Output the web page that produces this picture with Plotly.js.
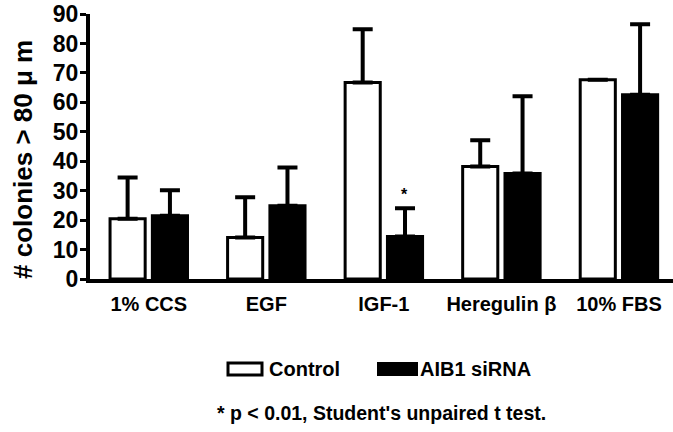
<!DOCTYPE html>
<html>
<head>
<meta charset="utf-8">
<script src="https://cdn.plot.ly/plotly-3.0.1.min.js"></script>
<style>html,body{margin:0;padding:0;background:#fff;}#chart{width:673px;height:432px;}</style>
</head>
<body>
<div id="chart"></div>
<script>
// ---- data ----
const categories = ["1% CCS", "EGF", "IGF-1", "Heregulin β", "10% FBS"];
const controlValues = [20.5, 14.1, 66.7, 38.2, 67.7];
const controlErrors = [14.0, 13.7, 18.1, 8.9, 0];
const aib1Values = [21.5, 24.9, 14.4, 35.8, 62.6];
const aib1Errors = [8.6, 13.0, 9.6, 26.3, 23.9];
const seriesNames = ["Control", "AIB1 siRNA"];
const yTicks = [0, 10, 20, 30, 40, 50, 60, 70, 80, 90];
const significantIndex = 2; // IGF-1, AIB1 siRNA
const footnote = "* p < 0.01, Student's unpaired t test.";
const yTitle = "# colonies > 80 μ m";

const FONT = "Liberation Sans, Arial, Helvetica, sans-serif";
const xIdx = categories.map((_, i) => i);

const errStyle = {type: "data", symmetric: false, color: "#000", thickness: 4, width: 10};

const traces = [
  {
    type: "bar", name: seriesNames[0], x: xIdx, y: controlValues,
    marker: {color: "#fff", line: {color: "#000", width: 3}},
    error_y: Object.assign({array: controlErrors, arrayminus: controlValues.map(() => 0), visible: true}, errStyle),
    hoverinfo: "x+y", showlegend: false
  },
  {
    type: "bar", name: seriesNames[1], x: xIdx, y: aib1Values,
    marker: {color: "#000", line: {color: "#000", width: 3}},
    error_y: Object.assign({array: aib1Errors, arrayminus: aib1Values.map(() => 0), visible: true}, errStyle),
    hoverinfo: "x+y", showlegend: false
  }
];

// paper helpers (plot area: left 90, top 14, width 583, height 265)
const px = v => (v - 90) / 583;
const py = v => (279 - v) / 265;

const layout = {
  width: 673, height: 432,
  margin: {l: 90, r: 0, t: 14, b: 153, pad: 0},
  paper_bgcolor: "#fff", plot_bgcolor: "#fff",
  barmode: "group", bargap: 0.28, bargroupgap: 0.17,
  font: {family: FONT, color: "#000", size: 20, weight: "bold"},
  xaxis: {
    range: [-0.5, 4.46], tickmode: "array", tickvals: xIdx, ticktext: categories,
    showline: true, linecolor: "#000", linewidth: 4, ticks: "", showgrid: false, zeroline: false,
    ticklabelstandoff: 4,
    tickfont: {family: FONT, size: 20, color: "#000", weight: "bold"}, automargin: false, fixedrange: true
  },
  yaxis: {
    range: [0, 90], tickmode: "array", tickvals: yTicks,
    showline: true, linecolor: "#000", linewidth: 4, ticks: "outside", ticklen: 6, tickwidth: 3, tickcolor: "#000",
    showgrid: false, zeroline: false, automargin: false, fixedrange: true,
    ticklabelstandoff: -3,
    tickfont: {family: FONT, size: 23, color: "#000", weight: "bold"}
  },
  shapes: [
    {type: "rect", xref: "paper", yref: "paper", x0: px(228), x1: px(262), y0: py(375), y1: py(363),
     line: {color: "#000", width: 3}, fillcolor: "#fff"},
    {type: "rect", xref: "paper", yref: "paper", x0: px(378), x1: px(417), y0: py(375), y1: py(363),
     line: {color: "#000", width: 2}, fillcolor: "#000"}
  ],
  annotations: [
    {xref: "paper", yref: "paper", x: px(23), y: py(160), xanchor: "center", yanchor: "middle", textangle: -90,
     text: yTitle, showarrow: false, font: {family: FONT, size: 26, color: "#000", weight: "bold"}},
    {xref: "x", yref: "y", x: xIdx[significantIndex], y: aib1Values[significantIndex] + aib1Errors[significantIndex],
     xshift: 21, yshift: 14, text: "*", showarrow: false, font: {family: FONT, size: 16, color: "#000", weight: "bold"}},
    {xref: "paper", yref: "paper", x: px(267), y: py(369), xanchor: "left", yanchor: "middle",
     text: seriesNames[0], showarrow: false, font: {family: FONT, size: 20, color: "#000", weight: "bold"}},
    {xref: "paper", yref: "paper", x: px(418), y: py(369), xanchor: "left", yanchor: "middle",
     text: seriesNames[1], showarrow: false, font: {family: FONT, size: 20, color: "#000", weight: "bold"}},
    {xref: "paper", yref: "paper", x: px(215), y: py(413), xanchor: "left", yanchor: "middle",
     text: footnote, showarrow: false, font: {family: FONT, size: 19.5, color: "#000", weight: "bold"}}
  ]
};

Plotly.newPlot("chart", traces, layout, {displayModeBar: false, staticPlot: true});
</script>
</body>
</html>
